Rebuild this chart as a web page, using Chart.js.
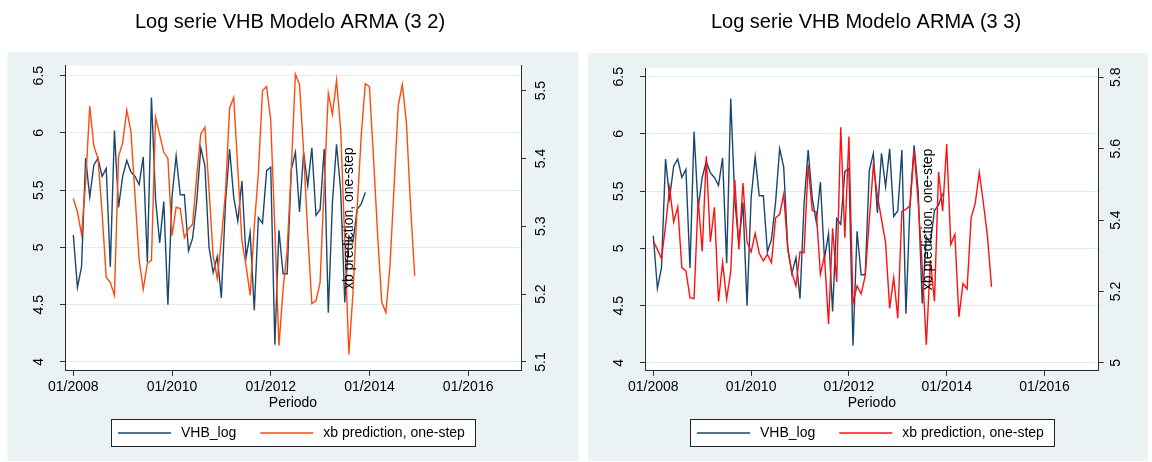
<!DOCTYPE html>
<html>
<head>
<meta charset="utf-8">
<title>Log serie VHB - ARMA</title>
<script src="https://cdn.jsdelivr.net/npm/chart.js@4.4.1/dist/chart.umd.min.js"></script>
<style>
  html, body { margin: 0; padding: 0; background: #fff; }
  body { width: 1152px; height: 462px; position: relative; overflow: hidden; }
  .panel { position: absolute; top: 0; height: 462px; }
  #left { left: 0; width: 580px; }
  #right { left: 580px; width: 572px; }
</style>
</head>
<body>
<div class="panel" id="left"><canvas id="arma32" width="580" height="462"></canvas></div>
<div class="panel" id="right"><canvas id="arma33" width="572" height="462"></canvas></div>
<script>
// monthly series, index 0 = 01/2008
const vhbLog = [
  5.11, 4.65, 4.83, 5.78, 5.44, 5.72, 5.78, 5.62, 5.69, 4.83,
  6.02, 5.35, 5.62, 5.76, 5.66, 5.62, 5.55, 5.79, 4.87, 6.31,
  5.42, 5.04, 5.40, 4.50, 5.44, 5.80, 5.46, 5.46, 4.97, 5.08,
  5.40, 5.87, 5.71, 5.00, 4.78, 4.92, 4.56, 5.39, 5.86, 5.44,
  5.23, 5.58, 4.91, 5.13, 4.45, 5.26, 5.21, 5.67, 5.70, 4.15,
  5.15, 4.77, 4.77, 5.68, 5.83, 5.31, 5.83, 5.54, 5.87, 5.28,
  5.33, 5.86, 4.43, 5.39, 5.90, 5.50, 4.52, 5.10, 5.05, 5.33,
  5.38, 5.48
];

const xbArma32 = [
  5.341, 5.321, 5.288, 5.365, 5.477, 5.418, 5.400, 5.320, 5.225, 5.217,
  5.198, 5.403, 5.423, 5.471, 5.440, 5.346, 5.251, 5.207, 5.245, 5.250,
  5.461, 5.435, 5.409, 5.400, 5.286, 5.328, 5.326, 5.283, 5.296, 5.303,
  5.374, 5.436, 5.446, 5.354, 5.256, 5.223, 5.281, 5.350, 5.474, 5.490,
  5.384, 5.278, 5.242, 5.198, 5.300, 5.379, 5.500, 5.506, 5.456, 5.296,
  5.124, 5.207, 5.266, 5.384, 5.524, 5.509, 5.410, 5.290, 5.186, 5.190,
  5.217, 5.360, 5.496, 5.465, 5.515, 5.443, 5.280, 5.111, 5.202, 5.325,
  5.433, 5.510, 5.506, 5.400, 5.286, 5.188, 5.173, 5.242, 5.359, 5.478,
  5.509, 5.452, 5.330, 5.227
];

const xbArma33 = [
  5.341, 5.318, 5.292, 5.383, 5.490, 5.395, 5.437, 5.267, 5.258, 5.183,
  5.180, 5.458, 5.312, 5.579, 5.339, 5.436, 5.172, 5.281, 5.179, 5.256,
  5.513, 5.318, 5.504, 5.339, 5.311, 5.363, 5.307, 5.286, 5.304, 5.281,
  5.406, 5.416, 5.472, 5.320, 5.253, 5.216, 5.311, 5.309, 5.555, 5.427,
  5.423, 5.248, 5.300, 5.109, 5.377, 5.227, 5.660, 5.351, 5.634, 5.167,
  5.216, 5.193, 5.244, 5.400, 5.553, 5.467, 5.402, 5.337, 5.153, 5.239,
  5.125, 5.425, 5.430, 5.440, 5.595, 5.450, 5.270, 5.051, 5.288, 5.172,
  5.535, 5.425, 5.613, 5.332, 5.360, 5.129, 5.222, 5.207, 5.407, 5.447,
  5.534, 5.448, 5.355, 5.213
];

const tickMonths = [0, 24, 48, 72, 96];
const tickLabels = ['01/2008', '01/2010', '01/2012', '01/2014', '01/2016'];
const leftTicks = [4, 4.5, 5, 5.5, 6, 6.5];
const rightTicks32 = [5.1, 5.2, 5.3, 5.4, 5.5];
const rightTicks33 = [5, 5.2, 5.4, 5.6, 5.8];

const FONT = '"Liberation Sans", Arial, Helvetica, sans-serif';
const AXIS = '#2b2b2b';
const GRID = '#e3ebee';
const PANEL = '#eaf2f3';
const BLUE = '#1a476f';

Chart.defaults.font.family = FONT;
Chart.defaults.color = '#000';

const toXY = arr => arr.map((v, i) => ({ x: i, y: v }));

// gray graph region + white plot region
const panelBg = {
  id: 'panelBg',
  beforeDraw(chart, args, opts) {
    const { ctx, chartArea } = chart;
    ctx.save();
    ctx.fillStyle = PANEL;
    ctx.fillRect(opts.x, opts.y, opts.w, opts.h);
    ctx.fillStyle = '#fff';
    ctx.fillRect(chartArea.left, chartArea.top, chartArea.right - chartArea.left, chartArea.bottom - chartArea.top);
    ctx.restore();
  }
};

// vertical tick labels on both y axes, plus the stray right-axis title
const verticalText = {
  id: 'verticalText',
  afterDraw(chart, args, opts) {
    const { ctx, chartArea } = chart;
    ctx.save();
    ctx.font = '14px ' + FONT;
    ctx.fillStyle = '#000';
    ctx.textAlign = 'center';
    ctx.textBaseline = 'middle';
    const drawUp = (txt, x, y) => {
      ctx.save();
      ctx.translate(x, y);
      ctx.rotate(-Math.PI / 2);
      ctx.fillText(txt, 0, 0);
      ctx.restore();
    };
    const y = chart.scales.y, y1 = chart.scales.y1;
    y.ticks.forEach(t => drawUp(String(t.value), chartArea.left - 26, y.getPixelForValue(t.value)));
    y1.ticks.forEach(t => drawUp(String(t.value), chartArea.right + opts.rightGap, y1.getPixelForValue(t.value)));
    const w = chartArea.right - chartArea.left;
    drawUp(opts.note, chartArea.left + 0.624 * w, (chartArea.top + chartArea.bottom) / 2);
    ctx.restore();
  }
};

// boxed legend under the axis title
const legendBox = {
  id: 'legendBox',
  afterDraw(chart) {
    const { ctx, chartArea } = chart;
    const ds = chart.data.datasets;
    ctx.save();
    ctx.font = '14px ' + FONT;
    const lineLen = 53, gap = 10, itemGap = 24, padL = 7, padR = 10;
    const widths = ds.map(d => ctx.measureText(d.label).width);
    let w = padL + padR + itemGap * (ds.length - 1);
    widths.forEach(tw => { w += lineLen + gap + tw; });
    const top = 419, h = 27;
    let x = Math.round((chartArea.left + chartArea.right) / 2 - w / 2);
    ctx.fillStyle = '#fff';
    ctx.fillRect(x, top, w, h);
    ctx.strokeStyle = '#222';
    ctx.lineWidth = 1;
    ctx.strokeRect(x + 0.5, top + 0.5, Math.round(w), h);
    const cy = top + h / 2 + 0.5;
    x += padL;
    ds.forEach((d, i) => {
      ctx.strokeStyle = d.borderColor;
      ctx.lineWidth = 1.5;
      ctx.beginPath();
      ctx.moveTo(x, cy);
      ctx.lineTo(x + lineLen, cy);
      ctx.stroke();
      x += lineLen + gap;
      ctx.fillStyle = '#000';
      ctx.textAlign = 'left';
      ctx.textBaseline = 'middle';
      ctx.fillText(d.label, x, cy);
      x += widths[i] + itemGap;
    });
    ctx.restore();
  }
};

function makeChart(id, cfg) {
  const fixTicks = list => scale => { scale.ticks = list.map(v => ({ value: v })); };
  return new Chart(document.getElementById(id), {
    type: 'line',
    data: {
      datasets: [
        {
          label: 'VHB_log',
          data: toXY(vhbLog),
          borderColor: BLUE,
          backgroundColor: BLUE,
          yAxisID: 'y',
          order: 2
        },
        {
          label: 'xb prediction, one-step',
          data: toXY(cfg.xb),
          borderColor: cfg.xbColor,
          backgroundColor: cfg.xbColor,
          yAxisID: 'y1',
          order: 1
        }
      ]
    },
    options: {
      responsive: false,
      animation: false,
      events: [],
      layout: { padding: { left: 0, right: 0, top: 0, bottom: 50.6 } },
      elements: {
        point: { radius: 0 },
        line: { borderWidth: 1.4, tension: 0 }
      },
      plugins: {
        legend: { display: false },
        tooltip: { enabled: false },
        title: {
          display: true,
          text: cfg.title,
          color: '#000',
          font: { size: 20, weight: 'normal' },
          padding: { top: 10, bottom: cfg.titleGap }
        },
        panelBg: cfg.panel,
        verticalText: { note: 'xb prediction, one-step', rightGap: cfg.rightGap }
      },
      scales: {
        x: {
          type: 'linear',
          min: cfg.xMin,
          max: cfg.xMax,
          afterBuildTicks: fixTicks(tickMonths),
          ticks: {
            callback: v => tickLabels[tickMonths.indexOf(v)],
            font: { size: 14 },
            color: '#000',
            maxRotation: 0,
            padding: 3
          },
          grid: { drawOnChartArea: false, drawTicks: true, tickLength: 5, tickColor: AXIS },
          border: { color: AXIS, width: 1 },
          title: { display: true, text: 'Periodo', color: '#000', font: { size: 14 }, padding: 0 },
          afterFit: s => { s.height = 40.5; }
        },
        y: {
          type: 'linear',
          position: 'left',
          min: cfg.yMin,
          max: cfg.yMax,
          afterBuildTicks: fixTicks(leftTicks),
          ticks: { display: false },
          grid: { color: GRID, lineWidth: 1, drawTicks: true, tickLength: 5, tickColor: AXIS },
          border: { color: AXIS, width: 1 },
          afterFit: s => { s.width = 65; }
        },
        y1: {
          type: 'linear',
          position: 'right',
          min: cfg.y1Min,
          max: cfg.y1Max,
          afterBuildTicks: fixTicks(cfg.rightTicks),
          ticks: { display: false },
          grid: { drawOnChartArea: false, drawTicks: true, tickLength: 5, tickColor: AXIS },
          border: { color: AXIS, width: 1 },
          afterFit: s => { s.width = cfg.rightWidth; }
        }
      }
    },
    plugins: [panelBg, verticalText, legendBox]
  });
}

makeChart('arma32', {
  title: 'Log serie VHB Modelo ARMA (3 2)',
  xb: xbArma32,
  xbColor: '#ff4a0a',
  rightTicks: rightTicks32,
  xMin: -2.02, xMax: 108.85,
  yMin: 3.9217, yMax: 6.587,
  y1Min: 5.0868, y1Max: 5.5367,
  rightWidth: 59,
  rightGap: 20,
  titleGap: 31.7,
  panel: { x: 7.5, y: 52, w: 571, h: 409 }
});

makeChart('arma33', {
  title: 'Log serie VHB Modelo ARMA (3 3)',
  xb: xbArma33,
  xbColor: '#ff1010',
  rightTicks: rightTicks33,
  xMin: -2.04, xMax: 109.3,
  yMin: 3.930, yMax: 6.576,
  y1Min: 4.9777, y1Max: 5.826,
  rightWidth: 53.3,
  rightGap: 17,
  titleGap: 34,
  panel: { x: 8, y: 53, w: 560, h: 408 }
});
</script>
</body>
</html>
